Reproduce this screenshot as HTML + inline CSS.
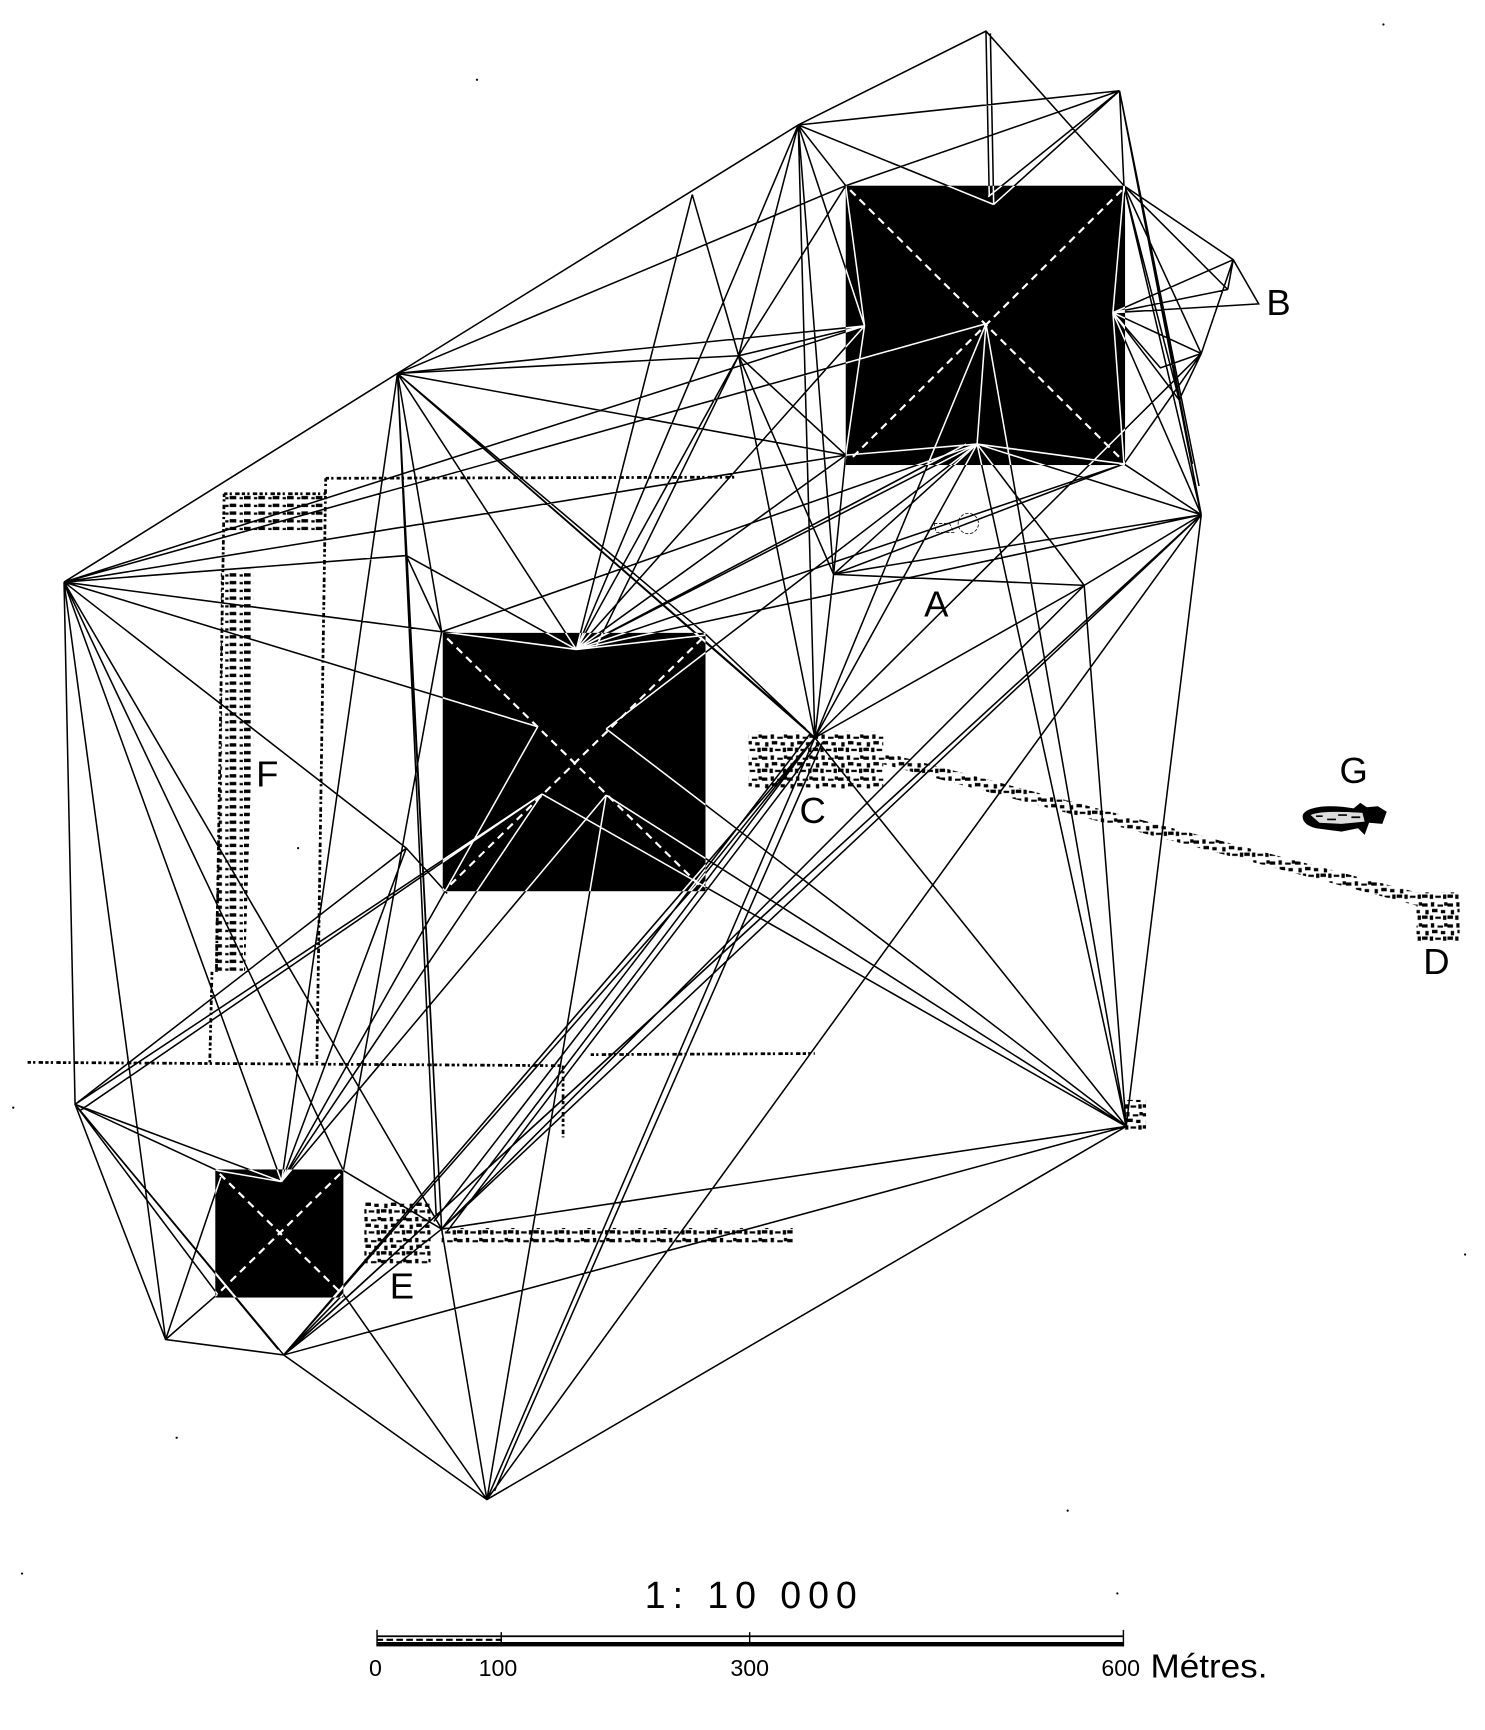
<!DOCTYPE html>
<html><head><meta charset="utf-8">
<style>
html,body{margin:0;padding:0;background:#fff}
svg{display:block;width:1485px;height:1730px}
text{font-family:"Liberation Sans",sans-serif;fill:#000}
</style></head><body>
<svg xmlns="http://www.w3.org/2000/svg" viewBox="0 0 1345 1566.5" width="1485" height="1730">
<defs>
<pattern id="st" width="23" height="19" patternUnits="userSpaceOnUse">
<path d="M0 1h5v3h-5zM8 0h3v4h-3zM14 2h5v2h-5zM20 0h3v3h-3zM3 7h3v4h-3zM9 6h5v3h-5zM17 7h4v3h-4zM0 12h5v3h-5zM7 12h3v4h-3zM12 13h5v2h-5zM19 12h3v4h-3z" fill="#000"/>
</pattern>
<pattern id="fp" width="13" height="7" patternUnits="userSpaceOnUse">
<path d="M0 1h6v3h-6zM9 2h3v2h-3z" fill="#000"/>
</pattern>
<clipPath id="blk">
<rect x="766" y="168" width="253" height="253"/>
<rect x="401" y="573" width="238" height="234"/>
<rect x="195" y="1059" width="116" height="116"/>
</clipPath>
<path id="net" d="
M58 527L360 338L723 113L893 28L1018 168L1117 235L1140 275L1008 283
M58 527L68 1000L150 1213L257 1227L441 1358L1020 1020L1088 466
M893 28L896 178M897 30L900 185
M1014 82L723 113M1014 82L900 185M1014 82L895 178M1014 82L766 168L360 338
M1014 82L1018 168M1014 82L1088 466M1014 82L1086 440M1014 82L1080 420
M723 113L900 185M723 113L766 168M723 113L738 668M723 113L522 588M723 113L669 322L540 585M723 113L360 338
M723 113L783 295M723 113L755 520
M627 176L522 588M627 176L669 322
M766 168L783 295L766 412L885 402L1018 420L1008 283L1018 168
M766 168L669 322L522 588
M360 338L669 322M360 338L783 295M360 338L766 412M360 338L368 503M360 338L400 572M360 338L400 1113M360 338L395 1100M360 338L522 588M360 338L640 575M360 338L738 668M360 338L730 660M360 338L255 1070
M58 527L893 293M58 527L766 412M58 527L783 295M58 527L368 503M58 527L400 572M58 527L487 658M58 527L368 768M58 527L150 1213M58 527L255 1070M58 527L311 1060M58 527L400 1113
M368 503L522 588M368 503L400 572M368 503L400 1113
M400 572L885 402M400 572L522 588M400 572L311 1060
M522 588L669 322M522 588L783 295M522 588L766 412M522 588L885 402M522 588L1088 466M522 588L640 575M522 588L1018 420M522 588L875 402M522 588L860 410
M640 590L885 402M640 590L549 660
M669 322L766 412M669 322L738 668M669 322L755 520M669 322L783 295
M783 295L360 338M783 295L522 588
M893 293L885 402M893 293L738 668M893 293L1020 1020
M885 402L738 668M885 402L1020 1020M885 402L1088 466M885 402L982 530M885 402L755 520
M1018 420L1088 466M1018 420L755 520
M1008 283L1117 235M1008 283L1112 262M1008 283L1140 275M1008 283L1088 320M1008 283L1068 362M1008 283L1088 466M1008 283L1051 333L1088 320
M1018 168L1088 320M1018 168L1088 466M1018 168L1112 262M1018 168L1068 362
M1117 235L1088 320M1117 235L1112 262M1117 235L1008 283M1088 320L1068 362L1088 466
M1088 320L1018 420M1088 320L738 668
M1088 466L755 520M1088 466L982 530L738 668M1088 466L400 1113M1088 466L441 1358M1088 466L257 1227M1088 466L266 1219
M755 520L982 530M755 520L738 668M755 520L766 412
M982 530L1020 1020M982 530L400 1113
M738 668L257 1227M738 668L400 1113M734 664L393 1106M742 672L405 1115M738 668L441 1358M745 672L448 1350M738 668L1020 1020M738 668L640 575
M738 668L630 802
M549 660L1020 1020M549 720L1020 1020M491 719L1020 1020
M487 658L255 1070M491 719L255 1070M549 720L255 1070M549 720L441 1358M491 719L68 1000M491 719L72 1006
M368 768L68 1000M368 768L405 809M368 768L255 1070
M400 1113L1020 1020M400 1113L257 1227M400 1113L441 1358M400 1113L311 1060
M257 1227L1020 1020M257 1227L311 1172M257 1227L640 782M257 1227L630 802
M68 1000L255 1070M68 1000L197 1060M68 1000L150 1213M68 1000L257 1227M68 1000L252 1222M68 1000L197 1172
M150 1213L197 1172M150 1213L200 1066
M311 1172L441 1358M441 1358L400 1113
M197 1060L255 1070
"/>
</defs>
<rect width="1345" height="1567" fill="#fff"/>

<!-- stippled ground -->
<rect x="678" y="662" width="122" height="52" fill="url(#st)"/>
<rect x="330" y="1088" width="60" height="57" fill="url(#st)"/>
<rect x="400" y="1112" width="318" height="14" fill="url(#st)"/>
<rect x="1283" y="808" width="39" height="44" fill="url(#st)"/>
<rect x="1018" y="996" width="20" height="28" fill="url(#st)"/>
<polygon points="800,681 1283,808 1283,820 800,692" fill="url(#st)"/>
<rect x="203" y="447" width="92" height="33" fill="url(#fp)"/>
<rect x="200" y="515" width="30" height="165" fill="url(#fp)"/>
<polygon points="200,680 228,680 222,880 194,880" fill="url(#fp)"/>
<g fill="none" stroke="#000" stroke-width="2.500" stroke-dasharray="3 2 2 3 4 2">
<path d="M295 433L665 432M295 433L287 962M203 447L196 880M192 880L190 962M203 447L295 447"/>
<path d="M25 962L510 965M535 955L738 954M510 965L510 1030"/>
</g>
<g fill="none" stroke="#000" stroke-width="0.7" stroke-dasharray="3 1.5">
<path d="M846 474h14l4 8h-16zM868 472a9 9 0 1 0 18 4a9 9 0 0 0-18-4z"/>
</g>

<!-- pyramids -->
<rect x="766" y="168" width="253" height="253" fill="#000"/>
<rect x="401" y="573" width="238" height="234" fill="#000"/>
<rect x="195" y="1059" width="116" height="116" fill="#000"/>

<!-- triangulation -->
<use href="#net" fill="none" stroke="#000" stroke-width="1.4"/>
<g clip-path="url(#blk)">
<use href="#net" fill="none" stroke="#fff" stroke-width="1.4"/>
<path d="M770 172L1016 416M1016 172L770 416M405 578L636 804M636 578L405 804M199 1063L308 1170M308 1063L199 1170" fill="none" stroke="#fff" stroke-width="2" stroke-dasharray="7 5"/>
</g>

<!-- sphinx G -->
<path d="M1180 738C1183 730 1205 728 1226 732L1232 727L1238 731L1248 730L1256 735L1252 746L1240 745L1236 756L1230 750L1215 753L1192 750C1184 748 1179 744 1180 738Z" fill="#000"/>
<path d="M1187 738C1195 734 1218 735 1234 736L1236 744L1215 746L1195 745Z" fill="#ddd"/>
<path d="M1192 739h6M1202 742h8M1212 738h8M1224 740h8" stroke="#000" stroke-width="1.5"/>

<!-- labels -->
<g font-size="33">
<text x="848" y="558" text-anchor="middle">A</text>
<text x="1158" y="285" text-anchor="middle">B</text>
<text x="736" y="745" text-anchor="middle">C</text>
<text x="1301" y="882" text-anchor="middle">D</text>
<text x="364" y="1176" text-anchor="middle">E</text>
<text x="242" y="712" text-anchor="middle">F</text>
<text x="1226" y="709" text-anchor="middle">G</text>
</g>

<!-- scale -->
<text x="584" y="1456" font-size="34" textLength="192" lengthAdjust="spacing">1:  10 000</text>
<rect x="341" y="1481" width="677" height="1.6" fill="#000"/>
<rect x="341" y="1487" width="677" height="4" fill="#000"/>
<path d="M341.500 1476V1491M454 1478V1491M679 1478V1491M1017.500 1476V1491" stroke="#000" stroke-width="1.3"/>
<path d="M341 1485h113" stroke="#000" stroke-width="2" stroke-dasharray="6 3"/>
<g font-size="21">
<text x="340" y="1518" text-anchor="middle">0</text>
<text x="451" y="1518" text-anchor="middle">100</text>
<text x="679" y="1518" text-anchor="middle">300</text>
<text x="1015" y="1518" text-anchor="middle">600</text>
</g>
<text x="1042" y="1519" font-size="30" textLength="106" lengthAdjust="spacingAndGlyphs">Métres.</text>

<!-- specks -->
<g fill="#000">
<circle cx="432" cy="72" r="1"/><circle cx="1253" cy="22" r="1"/><circle cx="12" cy="1003" r="1"/>
<circle cx="160" cy="1302" r="1"/><circle cx="967" cy="1368" r="1"/><circle cx="20" cy="1425" r="1"/>
<circle cx="1012" cy="1443" r="1"/><circle cx="1327" cy="1136" r="1"/><circle cx="270" cy="768" r="1"/>
</g>
</svg>
</body></html>
